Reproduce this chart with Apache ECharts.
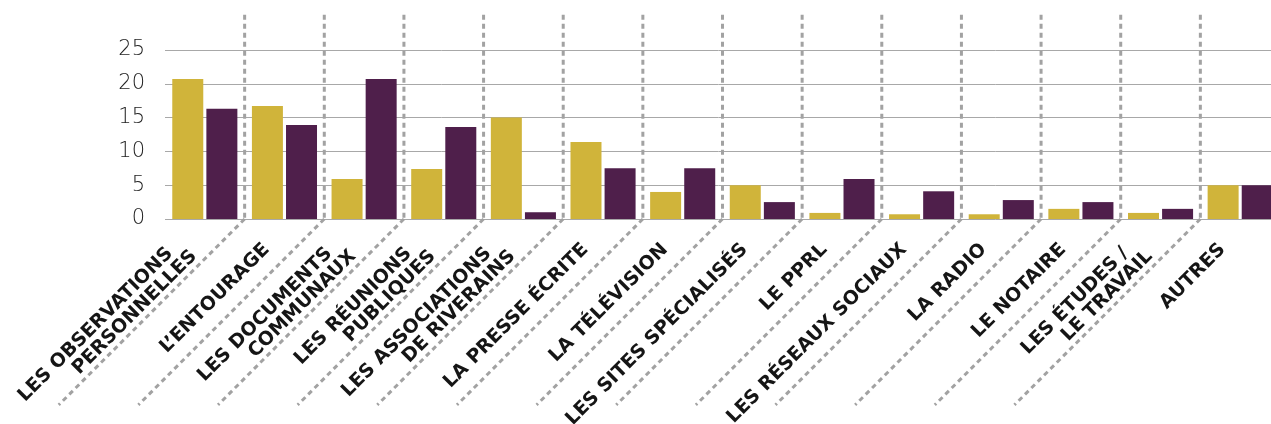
<!DOCTYPE html>
<html>
<head>
<meta charset="utf-8">
<script src="https://cdn.jsdelivr.net/npm/echarts@6/dist/echarts.min.js"></script>
<style>
html,body{margin:0;padding:0;background:#fff;}
#chart{width:1271px;height:424px;}
</style>
</head>
<body>
<div id="chart"></div>
<script>
const categories = [
  'LES OBSERVATIONS\nPERSONNELLES',
  'L\u2019ENTOURAGE',
  'LES DOCUMENTS\nCOMMUNAUX',
  'LES RÉUNIONS\nPUBLIQUES',
  'LES ASSOCIATIONS\nDE RIVERAINS',
  'LA PRESSE ÉCRITE',
  'LA TÉLÉVISION',
  'LES SITES SPÉCIALISÉS',
  'LE PPRL',
  'LES RÉSEAUX SOCIAUX',
  'LA RADIO',
  'LE NOTAIRE',
  'LES ÉTUDES /\nLE TRAVAIL',
  'AUTRES'
];
const seriesYellow = [20.7, 16.7, 5.9, 7.4, 15.0, 11.4, 4.0, 5.0, 0.9, 0.7, 0.7, 1.5, 0.9, 5.0];
const seriesPurple = [16.3, 13.9, 20.7, 13.6, 1.0, 7.5, 7.5, 2.5, 5.9, 4.1, 2.8, 2.5, 1.5, 5.0];
const yTicks = [0, 5, 10, 15, 20, 25];
const separators = [0, 1, 2, 3, 4, 5, 6, 7, 8, 9, 10, 11, 12];

const chart = echarts.init(document.getElementById('chart'), null, {renderer: 'canvas'});

const labelFont = {fontFamily: 'DejaVu Sans', fontWeight: 'bold', fontSize: 19, color: '#151515', lineHeight: 19};

const option = {
  animation: false,
  backgroundColor: '#ffffff',
  grid: {left: 165, top: 50, width: 1115, bottom: 205, containLabel: false, outerBoundsMode: 'none'},
  xAxis: {
    type: 'category',
    data: categories,
    axisLine: {show: false},
    axisTick: {show: false},
    splitLine: {show: false},
    axisLabel: Object.assign({
      interval: 0,
      rotate: 45,
      margin: 10,
      padding: [0, 25, 0, 0],
      formatter: function (v) {
        const parts = v.split('\n');
        if (parts.length === 1) return '{s|' + v + '}';
        return '{f|' + parts[0] + '}\n{s|' + parts[1] + '}';
      },
      rich: {
        f: Object.assign({padding: [0, 15, 0, 0]}, labelFont),
        s: Object.assign({}, labelFont)
      }
    }, labelFont)
  },
  yAxis: {
    type: 'value',
    min: yTicks[0],
    max: yTicks[yTicks.length - 1],
    interval: 5,
    axisLine: {show: false},
    axisTick: {show: false},
    axisLabel: {
      margin: 20,
      fontFamily: 'DejaVu Sans',
      fontWeight: 300,
      fontSize: 21,
      color: '#222'
    },
    splitLine: {lineStyle: {color: '#a8a8a8', width: 1}}
  },
  series: [
    {
      type: 'custom',
      name: 'separators',
      clip: false,
      silent: true,
      z: 1,
      data: separators.map(v => [v]),
      encode: {x: 0},
      renderItem: function (params, api) {
        const i = api.value(0);
        const a = api.coord([i, 0]);
        const b = api.coord([i + 1, 0]);
        const x = (a[0] + b[0]) / 2;
        const y0 = a[1];
        const yTop = api.coord([i, 30.2])[1];
        const diag = api.size([0, 27.5])[1];
        const style = {stroke: '#a2a2a2', lineWidth: 3, lineDash: [5, 4], fill: null};
        return {
          type: 'group',
          children: [
            {type: 'line', shape: {x1: x, y1: yTop, x2: x, y2: y0}, style: style},
            {type: 'line', shape: {x1: x, y1: y0, x2: x - diag, y2: y0 + diag}, style: style}
          ]
        };
      }
    },
    {
      type: 'bar',
      name: 'A',
      data: seriesYellow,
      barWidth: 31,
      barGap: '10%',
      itemStyle: {color: '#D0B43A'},
      z: 3
    },
    {
      type: 'bar',
      name: 'B',
      data: seriesPurple,
      barWidth: 31,
      barGap: '10%',
      itemStyle: {color: '#4F1F4B'},
      z: 3
    }
  ]
};
chart.setOption(option);
</script>
</body>
</html>
